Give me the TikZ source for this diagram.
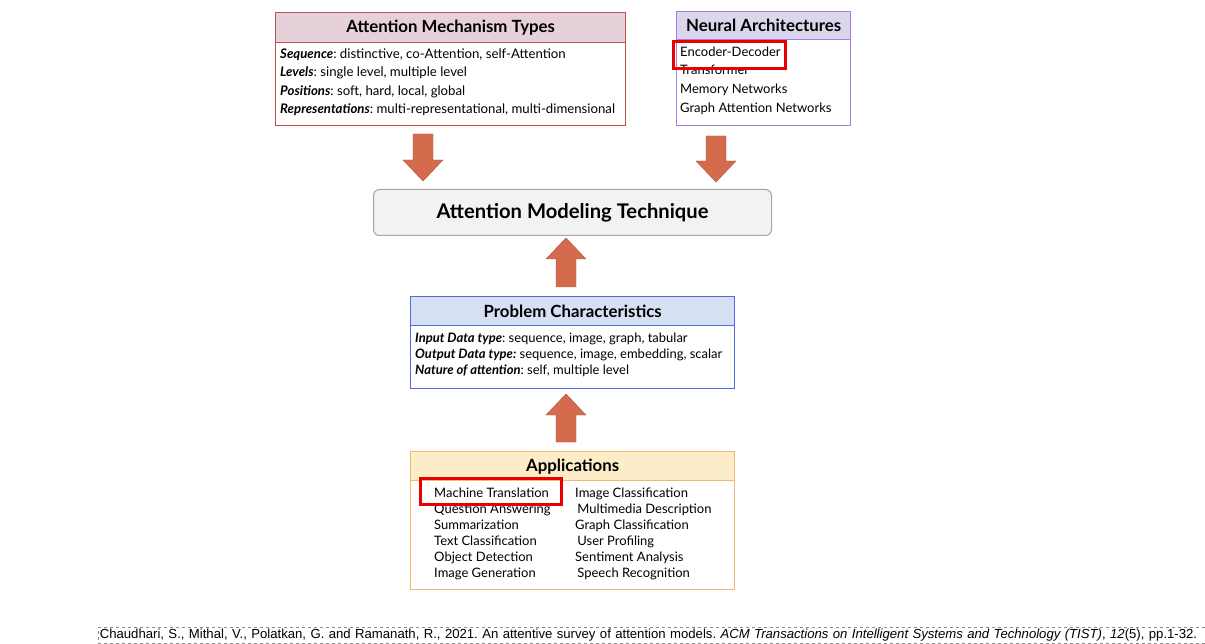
\documentclass[tikz,border=0pt]{standalone}
\usepackage{fontspec}
\setmainfont{Lato}
\newfontfamily\citefont{Liberation Sans}
\usetikzlibrary{positioning, calc}
\definecolor{amtred}{RGB}{190,80,80}
\definecolor{amtpink}{RGB}{230,208,218}
\definecolor{napurple}{RGB}{170,125,230}
\definecolor{nalilac}{RGB}{220,214,236}
\definecolor{pcblue}{RGB}{85,105,230}
\definecolor{pclight}{RGB}{214,224,243}
\definecolor{apporange}{RGB}{245,182,110}
\definecolor{applight}{RGB}{252,236,200}
\definecolor{arrowred}{RGB}{211,107,76}
\definecolor{hilite}{RGB}{232,0,0}
\frenchspacing
\tikzset{
  outer/.style={draw, line width=1.4pt, rectangle, inner sep=0pt, anchor=north west},
  head/.style={draw, line width=1.4pt, rectangle, inner sep=0pt, anchor=north west,
               font=\fontsize{16.8}{18}\selectfont\bfseries},
  body/.style={anchor=north west, inner sep=0pt, align=left,
               font=\fontsize{13.2}{18.4}\selectfont},
  hibox/.style={draw=hilite, line width=2.6pt, inner sep=0pt, anchor=north west},
  bigarrow/.style={fill=arrowred, draw=arrowred!80!black, line width=0.4pt}
}
% block arrow: centre x, top y, bottom y
\newcommand{\blockdown}[3]{%
  \draw[bigarrow] (#1-10,#2) -- (#1+10,#2) -- (#1+10,#3-21) -- (#1+20,#3-21)
    -- (#1,#3) -- (#1-20,#3-21) -- (#1-10,#3-21) -- cycle;}
\newcommand{\blockup}[3]{%
  \draw[bigarrow] (#1-10,#3) -- (#1+10,#3) -- (#1+10,#2+21) -- (#1+20,#2+21)
    -- (#1,#2) -- (#1-20,#2+21) -- (#1-10,#2+21) -- cycle;}
\begin{document}
\begin{tikzpicture}[x=1pt,y=-1pt]
  \useasboundingbox (0,0) rectangle (1205,644);
  % attention mechanism types
  \node[outer, draw=amtred, minimum width=350pt, minimum height=113pt] (amt) at (275,12) {};
  \node[head, draw=amtred, fill=amtpink, minimum width=350pt, minimum height=30pt]
    (amt-h) at (amt.north west) {Attention Mechanism Types};
  \node[body] (amt-b) at (280,48.5) {%
    \textbf{\textit{Sequence}}: distinctive, co-Attention, self-Attention\\
    \textbf{\textit{Levels}}: single level, multiple level\\
    \textbf{\textit{Positions}}: soft, hard, local, global\\
    \textbf{\textit{Representations}}: multi-representational, multi-dimensional};
  % neural architectures
  \node[outer, draw=napurple, minimum width=174pt, minimum height=114pt] (na) at (676,11) {};
  \node[head, draw=napurple, fill=nalilac, minimum width=174pt, minimum height=28pt]
    (na-h) at (na.north west) {Neural Architectures};
  \node[body, font=\fontsize{13}{18.6}\selectfont] (na-b) at (680,46.5) {%
    Encoder-Decoder\\
    Transformer\\
    Memory Networks\\
    Graph Attention Networks};
  \node[hibox, minimum width=112pt, minimum height=27pt] (na-hi) at (672,40) {};
  % arrows into the technique
  \blockdown{423}{134}{181}
  \blockdown{716}{136}{182}
  % attention modeling technique
  \node[draw=black!35, fill=black!5, line width=1pt, rounded corners=6pt,
        minimum width=398pt, minimum height=46pt, anchor=north west,
        font=\fontsize{20.2}{22}\selectfont\bfseries] (amtech) at (373,189)
    {Attention Modeling Technique};
  \blockup{566}{238}{287}
  % problem characteristics
  \node[outer, draw=pcblue, minimum width=324pt, minimum height=92pt] (pc) at (410,296) {};
  \node[head, draw=pcblue, fill=pclight, minimum width=324pt, minimum height=29pt]
    (pc-h) at (pc.north west) {Problem Characteristics};
  \node[body, font=\fontsize{13}{16}\selectfont] (pc-b) at (415,332.5) {%
    \textbf{\textit{Input Data type}}: sequence, image, graph, tabular\\
    \textbf{\textit{Output Data type:}} sequence, image, embedding, scalar\\
    \textbf{\textit{Nature of attention}}: self, multiple level};
  \blockup{566}{394}{442}
  % applications
  \node[outer, draw=apporange, minimum width=324pt, minimum height=138pt] (app) at (410,451) {};
  \node[head, draw=apporange, fill=applight, minimum width=324pt, minimum height=29pt]
    (app-h) at (app.north west) {Applications};
  \node[body, font=\fontsize{13}{16}\selectfont] (app-l) at (434,487.5) {%
    Machine Translation\\
    Question Answering\\
    Summarization\\
    Text Classification\\
    Object Detection\\
    Image Generation};
  \node[body, font=\fontsize{13}{16}\selectfont] (app-r) at (575,487.5) {%
    Image Classification\\
    \,Multimedia Description\\
    Graph Classification\\
    \,User Profiling\\
    Sentiment Analysis\\
    \,Speech Recognition};
  \node[hibox, minimum width=141pt, minimum height=26pt] (app-hi) at (419,477) {};
  % reference
  \node[draw=black!45, dashed, line width=0.6pt, anchor=west, inner sep=1.5pt,
        minimum height=16.5pt, text width=1112pt, font=\citefont\fontsize{13.15}{14}\selectfont]
    (cite) at (98,635.5) {Chaudhari, S., Mithal, V., Polatkan, G. and Ramanath, R., 2021. An attentive survey of attention models. \textit{ACM Transactions on Intelligent Systems and Technology (TIST)}, \textit{12}(5), pp.1-32.};
\end{tikzpicture}
\end{document}
